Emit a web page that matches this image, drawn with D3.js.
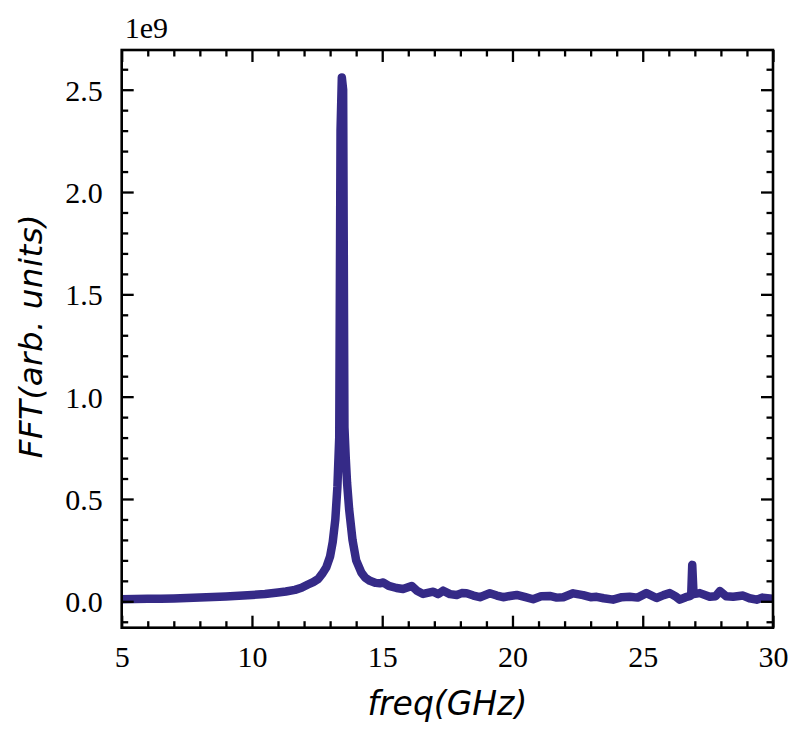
<!DOCTYPE html>
<html>
<head>
<meta charset="utf-8">
<script src="https://cdn.jsdelivr.net/npm/d3@7"></script>
<style>
  html, body { margin: 0; padding: 0; background: #fff; }
  svg { display: block; }
</style>
</head>
<body>
<div id="chart"></div>
<script>
// ---- data (frequency in GHz, FFT amplitude in units of 1e9) ----
const freq = [5.0, 5.5, 6.0, 6.5, 7.0, 7.5, 8.0, 8.5, 9.0, 9.5, 10.0, 10.5, 11.0, 11.3, 11.65, 11.9,
  12.15, 12.35, 12.55, 12.7, 12.85, 13.0, 13.1, 13.2, 13.28, 13.35, 13.4, 13.45, 13.5, 13.55, 13.6,
  13.65, 13.73, 13.86, 14.0, 14.2, 14.35, 14.53, 14.75, 14.91, 15.04, 15.25, 15.55, 15.8, 16.13,
  16.35, 16.57, 16.96, 17.15, 17.34, 17.6, 17.86, 18.05, 18.24, 18.5, 18.75, 19.13, 19.4, 19.64,
  19.9, 20.16, 20.5, 20.79, 21.1, 21.43, 21.7, 21.95, 22.33, 22.71, 23.0, 23.23, 23.5, 23.86, 24.2,
  24.5, 24.8, 25.14, 25.53, 25.8, 26.04, 26.25, 26.42, 26.65, 26.8, 26.86, 26.9, 26.95, 27.19, 27.57,
  27.8, 27.96, 28.2, 28.47, 28.85, 29.1, 29.37, 29.6, 29.88, 30.0];
const fft = [0.010, 0.011, 0.012, 0.013, 0.014, 0.016, 0.018, 0.021, 0.024, 0.027, 0.031, 0.036, 0.043, 0.048, 0.056, 0.066,
  0.082, 0.094, 0.110, 0.135, 0.165, 0.220, 0.290, 0.400, 0.560, 0.800, 2.300, 2.560, 2.500, 0.850, 0.700,
  0.580, 0.450, 0.300, 0.200, 0.140, 0.115, 0.100, 0.090, 0.088, 0.092, 0.075, 0.065, 0.060, 0.075,
  0.050, 0.036, 0.047, 0.035, 0.052, 0.035, 0.031, 0.040, 0.039, 0.028, 0.020, 0.039, 0.028, 0.020,
  0.026, 0.031, 0.020, 0.010, 0.025, 0.026, 0.018, 0.020, 0.039, 0.030, 0.020, 0.022, 0.015, 0.008, 0.020,
  0.022, 0.018, 0.040, 0.016, 0.030, 0.040, 0.025, 0.008, 0.020, 0.025, 0.030, 0.178, 0.035, 0.040, 0.022,
  0.025, 0.050, 0.025, 0.022, 0.028, 0.015, 0.008, 0.018, 0.014, 0.012];
const xTicks = [5, 10, 15, 20, 25, 30];
const yTicks = [0.0, 0.5, 1.0, 1.5, 2.0, 2.5];
const xLabel = "freq(GHz)";
const yLabel = "FFT(arb. units)";
const offsetText = "1e9";

const W = 804, H = 741;
const m = { left: 121.7, right: 31, top: 50, bottom: 113.3 };
const iw = W - m.left - m.right, ih = H - m.top - m.bottom;
const color = "#352a87";

const svg = d3.select("#chart").append("svg").attr("width", W).attr("height", H);
const g = svg.append("g").attr("transform", `translate(${m.left},${m.top})`);

const x = d3.scaleLinear().domain([5, 30]).range([0, iw]);
const y = d3.scaleLinear().domain([-0.129, 2.694]).range([ih, 0]);

const data = freq.map((f, i) => ({ f, v: fft[i] }));

g.append("defs").append("clipPath").attr("id", "clip")
  .append("rect").attr("width", iw).attr("height", ih);

g.append("path").datum(data)
  .attr("clip-path", "url(#clip)")
  .attr("fill", "none")
  .attr("stroke", color)
  .attr("stroke-width", 8.5)
  .attr("stroke-linejoin", "round")
  .attr("stroke-linecap", "round")
  .attr("d", d3.line().x(d => x(d.f)).y(d => y(d.v)));

// ticks (inward, all four sides)
const major = 12, minor = 6.5, tw = 2.3;
const xMinor = d3.range(5, 30.001, 1).filter(v => v % 5 !== 0);
const yMinor = d3.range(-0.1, 2.65, 0.1).map(v => +v.toFixed(2)).filter(v => Math.abs(v*2 - Math.round(v*2)) > 1e-6);

function addAxis(axisGen, transform) {
  const a = g.append("g").attr("transform", transform).call(axisGen);
  a.select(".domain").remove();
  a.selectAll("line").attr("stroke", "#000").attr("stroke-width", tw);
  return a;
}
const tfmt = d3.format(".1f");
// bottom
const bx = addAxis(d3.axisBottom(x).tickValues(xTicks).tickSize(-major).tickPadding(0).tickFormat(d3.format("d")), `translate(0,${ih})`);
bx.selectAll("text").attr("y", 39).attr("dy", null);
addAxis(d3.axisBottom(x).tickValues(xMinor).tickSize(-minor).tickFormat(""), `translate(0,${ih})`);
// top
addAxis(d3.axisTop(x).tickValues(xTicks).tickSize(-major).tickFormat(""), `translate(0,0)`);
addAxis(d3.axisTop(x).tickValues(xMinor).tickSize(-minor).tickFormat(""), `translate(0,0)`);
// left
const ly = addAxis(d3.axisLeft(y).tickValues(yTicks).tickSize(-major).tickFormat(tfmt), `translate(0,0)`);
ly.selectAll("text").attr("x", -19).attr("dy", "0.35em");
addAxis(d3.axisLeft(y).tickValues(yMinor).tickSize(-minor).tickFormat(""), `translate(0,0)`);
// right
addAxis(d3.axisRight(y).tickValues(yTicks).tickSize(-major).tickFormat(""), `translate(${iw},0)`);
addAxis(d3.axisRight(y).tickValues(yMinor).tickSize(-minor).tickFormat(""), `translate(${iw},0)`);

g.selectAll(".tick text")
  .attr("font-family", "'Liberation Serif', 'Times New Roman', serif")
  .attr("font-size", 30)
  .attr("fill", "#000");

// frame
g.append("rect").attr("width", iw).attr("height", ih)
  .attr("fill", "none").attr("stroke", "#000").attr("stroke-width", 2.6);

// offset text
svg.append("text").attr("x", m.left + 3).attr("y", 38)
  .attr("font-family", "'Liberation Serif', 'Times New Roman', serif")
  .attr("font-size", 30).text(offsetText);

// axis labels
svg.append("text").attr("x", m.left + iw / 2).attr("y", 715)
  .attr("text-anchor", "middle")
  .attr("font-family", "'DejaVu Sans', sans-serif").attr("font-style", "italic")
  .attr("font-size", 33).text(xLabel);

svg.append("text")
  .attr("transform", `translate(41.5,336) rotate(-90)`)
  .attr("text-anchor", "middle")
  .attr("font-family", "'DejaVu Sans', sans-serif").attr("font-style", "italic")
  .attr("font-size", 32.5).attr("letter-spacing", 0.5).text(yLabel);
</script>
</body>
</html>
